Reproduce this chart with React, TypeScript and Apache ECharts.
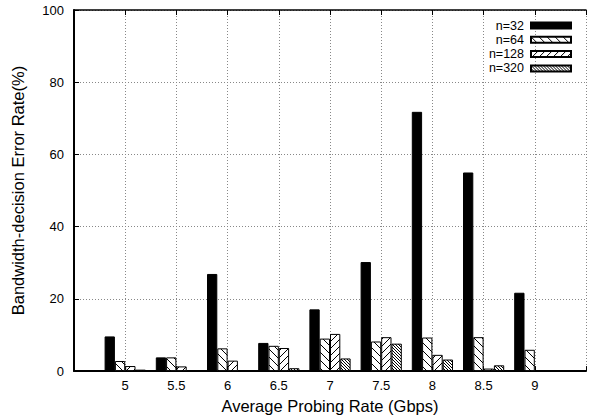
import React, { useEffect, useRef } from "react";
import * as echarts from "echarts";

const rates = [5, 5.5, 6, 6.5, 7, 7.5, 8, 8.5, 9];
const n32 = [9.6, 3.8, 26.9, 7.8, 17.1, 30.2, 71.8, 55.0, 21.7];
const n64 = [2.8, 3.8, 6.3, 7.0, 9.0, 8.2, 9.3, 9.4, 5.9];
const n128 = [1.4, 1.3, 2.9, 6.4, 10.3, 9.4, 4.5, 0.7, 0];
const n320 = [0.4, 0.1, 0.3, 0.8, 3.5, 7.6, 3.2, 1.6, 0];
const seriesNames = ["n=32", "n=64", "n=128", "n=320"];
const yTicks = [0, 20, 40, 60, 80, 100];

const FONT = "'Liberation Sans', Arial, Helvetica, sans-serif";

function hatch(size: number, dir: "back" | "fwd") {
  const c = document.createElement("canvas");
  c.width = size;
  c.height = size;
  const ctx = c.getContext("2d")!;
  ctx.fillStyle = "#fff";
  ctx.fillRect(0, 0, size, size);
  ctx.strokeStyle = "#000";
  ctx.lineWidth = 1;
  ctx.beginPath();
  for (let k = -1; k <= 1; k++) {
    if (dir === "back") {
      ctx.moveTo(k * size - 1, -1);
      ctx.lineTo(k * size + size + 1, size + 1);
    } else {
      ctx.moveTo(k * size - 1, size + 1);
      ctx.lineTo(k * size + size + 1, -1);
    }
  }
  ctx.stroke();
  return { image: c, repeat: "repeat", imageWidth: size, imageHeight: size } as any;
}

export default function App() {
  const ref = useRef<HTMLDivElement>(null);
  useEffect(() => {
    if (!ref.current) return;
    const chart = echarts.init(ref.current, null, { renderer: "svg" });
    const fills: any[] = ["#000", hatch(8, "back"), hatch(7, "fwd"), hatch(3, "back")];
    const values = [n32, n64, n128, n320];
    const axisCommon = {
      type: "value",
      min: 4.5,
      max: 9.5,
      interval: 0.5,
    };
    chart.setOption({
      animation: false,
      textStyle: { fontFamily: FONT },
      grid: { left: 74, top: 10, right: -3, bottom: 42, containLabel: false },
      legend: {
        data: seriesNames,
        orient: "vertical",
        right: 12,
        top: 14,
        align: "right",
        icon: "rect",
        itemWidth: 40,
        itemHeight: 6,
        itemGap: 1.3,
        textStyle: { fontFamily: FONT, fontSize: 12.5, color: "#000", lineHeight: 12, padding: [0, 2, 0, 0] },
      },
      xAxis: [
        {
          ...axisCommon,
          position: "bottom",
          name: "Average Probing Rate (Gbps)",
          nameLocation: "middle",
          nameGap: 24,
          nameTextStyle: { fontFamily: FONT, fontSize: 16.5, color: "#000" },
          axisLine: { show: true, lineStyle: { color: "#000", width: 2 } },
          axisTick: { show: true, inside: true, length: 5, lineStyle: { color: "#000" } },
          axisLabel: {
            margin: 8,
            fontFamily: FONT,
            fontSize: 13,
            color: "#000",
            formatter: (v: number) => (v === 4.5 || v === 9.5 ? "" : String(v)),
          },
          splitLine: { show: true, lineStyle: { color: "#888", type: [1, 2], width: 1 } },
        },
        {
          ...axisCommon,
          position: "top",
          axisLine: { show: true, lineStyle: { color: "#000", width: 1.5 } },
          axisTick: { show: true, inside: true, length: 5, lineStyle: { color: "#000" } },
          axisLabel: { show: false },
          splitLine: { show: false },
        },
      ],
      yAxis: {
        type: "value",
        min: yTicks[0],
        max: yTicks[yTicks.length - 1],
        interval: 20,
        name: "Bandwidth-decision Error Rate(%)",
        nameLocation: "middle",
        nameGap: 48,
        nameTextStyle: { fontFamily: FONT, fontSize: 16.5, color: "#000" },
        axisLine: { show: true, lineStyle: { color: "#000", width: 2 } },
        axisTick: { show: true, inside: true, length: 5, lineStyle: { color: "#000" } },
        axisLabel: { margin: 10, fontFamily: FONT, fontSize: 13, color: "#000" },
        splitLine: { show: true, lineStyle: { color: "#888", type: [1, 2], width: 1 } },
      },
      series: seriesNames.map((name, i) => ({
        name,
        type: "bar",
        xAxisIndex: 0,
        barWidth: 10.3,
        barGap: "0%",
        data: rates.map((r, j) => [r, values[i][j]]),
        itemStyle: { color: fills[i], borderColor: "#000", borderWidth: 1 },
      })),
    });
    return () => chart.dispose();
  }, []);
  return (
    <div
      ref={ref}
      style={{ position: "absolute", left: 0, top: 0, width: 589, height: 419, background: "#fff" }}
    />
  );
}
